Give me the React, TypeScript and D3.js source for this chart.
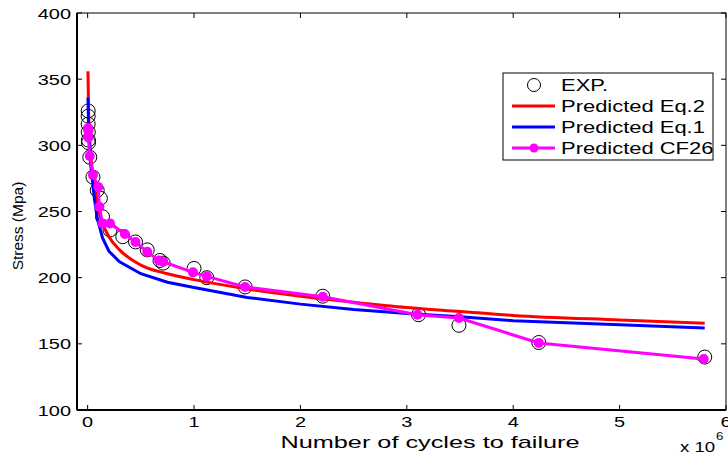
import React from "react";
import * as d3 from "d3";

// cycles are in millions (axis shows x 10^6), stress in MPa
const expPoints: [number, number][] = [
  [0.005, 326], [0.005, 322], [0.005, 316], [0.006, 310], [0.007, 304], [0.008, 302],
  [0.02, 291], [0.05, 276], [0.09, 266], [0.12, 260], [0.14, 246], [0.21, 236],
  [0.33, 231], [0.45, 227], [0.56, 221], [0.68, 213], [0.71, 211], [1.0, 207],
  [1.12, 200], [1.48, 193], [2.21, 186], [3.11, 172], [3.49, 164], [4.24, 151], [5.8, 140],
];

const eq2Points: [number, number][] = [
  [0.003, 356], [0.01, 322], [0.025, 298], [0.06, 272], [0.1, 252], [0.15, 239],
  [0.2, 231], [0.3, 221], [0.5, 209.5], [0.75, 203], [1.0, 198.5], [1.5, 191.5],
  [2.0, 186], [2.5, 181.5], [3.0, 177.5], [3.5, 174.5], [4.0, 171.5], [5.0, 168], [5.8, 165.5],
];

const eq1Points: [number, number][] = [
  [0.003, 336], [0.01, 310], [0.025, 288], [0.06, 262], [0.09, 245], [0.14, 230],
  [0.2, 220], [0.3, 212], [0.5, 203], [0.75, 196.5], [1.0, 192.5], [1.5, 185],
  [2.0, 180], [2.5, 176], [3.0, 173], [3.5, 170.5], [4.0, 167.5], [5.0, 164.5], [5.8, 162],
];

const cf26Points: [number, number][] = [
  [0.005, 313], [0.006, 311], [0.007, 306], [0.02, 292], [0.05, 277.5], [0.1, 268.5],
  [0.11, 253.5], [0.14, 241], [0.21, 241], [0.35, 233], [0.45, 227], [0.56, 219.5],
  [0.67, 213], [0.71, 212], [0.99, 204], [1.12, 201], [1.48, 193], [2.21, 185.5],
  [3.1, 172], [3.49, 169.5], [4.24, 150.7], [5.79, 138.6],
];

const xTicks = [0, 1, 2, 3, 4, 5, 6];
const yTicks = [100, 150, 200, 250, 300, 350, 400];
const legendItems = ["EXP.", "Predicted Eq.2", "Predicted Eq.1", "Predicted CF26"];

const FONT = "Liberation Sans, Arial, sans-serif";
const SX = 1.33; // the figure is stretched sideways

export default function App() {
  const left = 77, right = 726, top = 13, bottom = 410;
  const x = d3.scaleLinear().domain([-0.1, 6]).range([left, right]);
  const y = d3.scaleLinear().domain([100, 400]).range([bottom, top]);
  const line = d3.line<[number, number]>().x(d => x(d[0])).y(d => y(d[1]));
  const smooth = d3.line<[number, number]>().x(d => x(d[0])).y(d => y(d[1])).curve(d3.curveMonotoneX);

  const lg = { x: 503, y: 73, w: 210, h: 87 };
  const rowY = (i: number) => lg.y + 12 + i * 21;

  const stretched = (tx: number, ty: number, s = SX) => `translate(${tx},${ty}) scale(${s},1)`;

  return (
    <svg width={728} height={460} style={{ position: "absolute", left: 0, top: 0, background: "#fff" }}>
      <rect x={0} y={0} width={728} height={460} fill="#fff" />

      {/* frame */}
      <rect x={left} y={top} width={right - left} height={bottom - top} fill="none" stroke="#000" strokeWidth={1} />
      <line x1={left} x2={left} y1={top} y2={bottom} stroke="#000" strokeWidth={2} />
      <line x1={left} x2={right} y1={bottom} y2={bottom} stroke="#000" strokeWidth={2} />

      {/* ticks */}
      {xTicks.map(t => (
        <g key={"xt" + t}>
          <line x1={x(t)} x2={x(t)} y1={bottom} y2={bottom - 5} stroke="#000" />
          <line x1={x(t)} x2={x(t)} y1={top} y2={top + 5} stroke="#000" />
          <text transform={stretched(x(t), 427)} textAnchor="middle" fontFamily={FONT} fontSize={15}>{t}</text>
        </g>
      ))}
      {yTicks.map(t => (
        <g key={"yt" + t}>
          <line x1={left} x2={left + 5} y1={y(t)} y2={y(t)} stroke="#000" />
          <line x1={right} x2={right - 5} y1={y(t)} y2={y(t)} stroke="#000" />
          <text transform={stretched(71, y(t) + 5.5)} textAnchor="end" fontFamily={FONT} fontSize={15}>{t}</text>
        </g>
      ))}

      {/* axis labels */}
      <text transform="translate(23,226) rotate(-90)" textAnchor="middle" fontFamily={FONT} fontSize={15.5}>Stress (Mpa)</text>
      <text transform={stretched(430, 448, 1.58)} textAnchor="middle" fontFamily={FONT} fontSize={16}>Number of cycles to failure</text>
      <text transform={stretched(680, 452)} fontFamily={FONT} fontSize={14}>x 10</text>
      <text transform={stretched(716, 440)} fontFamily={FONT} fontSize={10}>6</text>

      {/* experimental points */}
      {expPoints.map((d, i) => (
        <circle key={"e" + i} cx={x(d[0])} cy={y(d[1])} r={7} fill="none" stroke="#000" strokeWidth={1} />
      ))}

      {/* predictions */}
      <path d={smooth(eq2Points) || ""} fill="none" stroke="#ff0000" strokeWidth={3} />
      <path d={line(eq1Points) || ""} fill="none" stroke="#0000ff" strokeWidth={3} />
      <path d={line(cf26Points) || ""} fill="none" stroke="#ff00ff" strokeWidth={3} />
      {cf26Points.map((d, i) => (
        <circle key={"c" + i} cx={x(d[0])} cy={y(d[1])} r={5} fill="#ff00ff" />
      ))}

      {/* legend */}
      <rect x={lg.x} y={lg.y} width={lg.w} height={lg.h} fill="#fff" stroke="#000" strokeWidth={1} />
      <circle cx={534} cy={rowY(0)} r={6.5} fill="none" stroke="#000" />
      <line x1={512} x2={555} y1={rowY(1)} y2={rowY(1)} stroke="#ff0000" strokeWidth={3} />
      <line x1={512} x2={555} y1={rowY(2)} y2={rowY(2)} stroke="#0000ff" strokeWidth={3} />
      <line x1={512} x2={555} y1={rowY(3)} y2={rowY(3)} stroke="#ff00ff" strokeWidth={3} />
      <circle cx={534} cy={rowY(3)} r={4.5} fill="#ff00ff" />
      {legendItems.map((s, i) => (
        <text key={s} transform={stretched(561, rowY(i) + 6)} fontFamily={FONT} fontSize={16.5}>{s}</text>
      ))}
    </svg>
  );
}
